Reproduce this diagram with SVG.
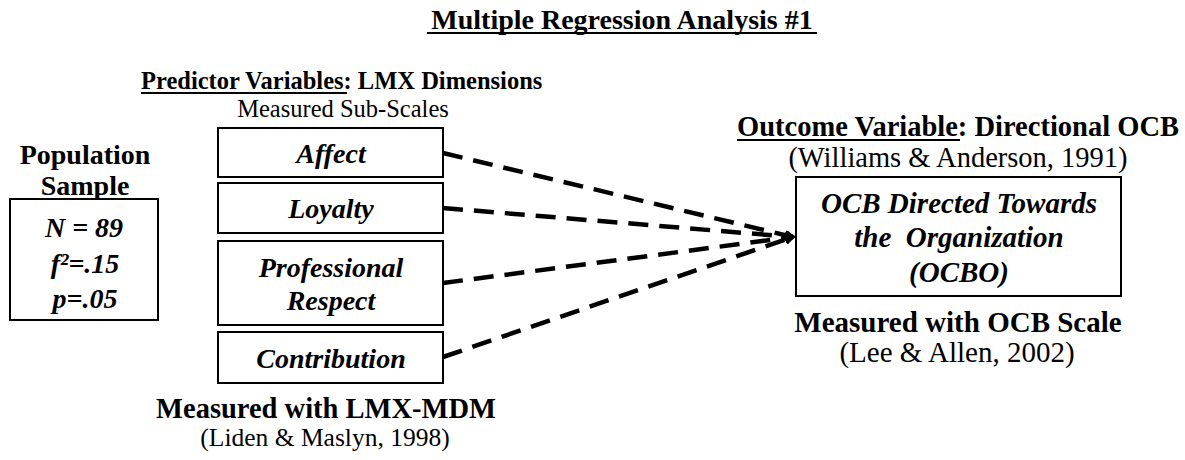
<svg xmlns="http://www.w3.org/2000/svg" width="1185" height="460" viewBox="0 0 1185 460">
<style>
text{font-family:"Liberation Serif","Times New Roman",serif;fill:#000}
.b{font-weight:bold}
.bi{font-weight:bold;font-style:italic}
.r{font-weight:normal}
.box{fill:#fff;stroke:#000;stroke-width:2}
.ul{stroke:#000;stroke-width:2}
.dash{fill:none;stroke:#000;stroke-width:4.5;stroke-dasharray:20 11}
</style>
<defs>
<marker id="ah" markerWidth="10" markerHeight="10" refX="8" refY="5" orient="auto" markerUnits="userSpaceOnUse">
<path d="M0,1 L8,5 L0,9" fill="none" stroke="#000" stroke-width="3"/>
</marker>
</defs>
<rect width="1185" height="460" fill="#fff"/>
<g id="title">
<text x="622" y="29" class="b" font-size="28" text-anchor="middle">Multiple Regression Analysis #1</text>
<line x1="427" y1="33" x2="817" y2="33" class="ul"/>
</g>
<g id="predictor-header">
<text x="141" y="89" class="b" font-size="24.5">Predictor Variables: LMX Dimensions</text>
<line x1="141" y1="93" x2="347" y2="93" class="ul"/>
<text x="343" y="117" class="r" font-size="24.5" text-anchor="middle">Measured Sub-Scales</text>
</g>
<g id="population">
<text x="85" y="164" class="b" font-size="28" text-anchor="middle">Population</text>
<text x="85" y="195" class="b" font-size="28" text-anchor="middle">Sample</text>
<rect x="10" y="199" width="148" height="121" class="box"/>
<text x="84" y="237" class="bi" font-size="28" text-anchor="middle">N = 89</text>
<text x="85" y="273" class="bi" font-size="28" text-anchor="middle">f²=.15</text>
<text x="85" y="308" class="bi" font-size="28" text-anchor="middle">p=.05</text>
</g>
<g id="connectors">
<path d="M443,153 L793,237" class="dash" marker-end="url(#ah)"/>
<path d="M443,208 L793,237" class="dash" marker-end="url(#ah)"/>
<path d="M443,283 L793,237" class="dash" marker-end="url(#ah)"/>
<path d="M443,357 L793,237" class="dash" marker-end="url(#ah)"/>
</g>
<g id="affect">
<rect x="218" y="128" width="225" height="49" class="box"/>
<text x="331" y="163" class="bi" font-size="28" text-anchor="middle">Affect</text>
</g>
<g id="loyalty">
<rect x="218" y="183" width="225" height="50" class="box"/>
<text x="331" y="218" class="bi" font-size="28" text-anchor="middle">Loyalty</text>
</g>
<g id="professional-respect">
<rect x="218" y="241" width="225" height="84" class="box"/>
<text x="331" y="277" class="bi" font-size="28" text-anchor="middle">Professional</text>
<text x="331" y="310" class="bi" font-size="28" text-anchor="middle">Respect</text>
</g>
<g id="contribution">
<rect x="218" y="332" width="225" height="51" class="box"/>
<text x="331" y="368" class="bi" font-size="28" text-anchor="middle">Contribution</text>
</g>
<g id="lmx-measure">
<text x="326" y="418" class="b" font-size="28.5" text-anchor="middle">Measured with LMX-MDM</text>
<text x="325" y="446" class="r" font-size="25.5" text-anchor="middle">(Liden &amp; Maslyn, 1998)</text>
</g>
<g id="outcome-header">
<text x="737" y="136" class="b" font-size="28.5">Outcome Variable: Directional OCB</text>
<line x1="737" y1="140" x2="960" y2="140" class="ul"/>
<text x="958" y="167" class="r" font-size="28.5" text-anchor="middle">(Williams &amp; Anderson, 1991)</text>
</g>
<g id="ocbo">
<rect x="796" y="177" width="325" height="119" class="box"/>
<text x="959" y="213" class="bi" font-size="29" text-anchor="middle">OCB Directed Towards</text>
<text x="959" y="247" class="bi" font-size="29" text-anchor="middle" xml:space="preserve">the  Organization</text>
<text x="959" y="282" class="bi" font-size="29" text-anchor="middle">(OCBO)</text>
</g>
<g id="ocb-measure">
<text x="958" y="332" class="b" font-size="29" text-anchor="middle">Measured with OCB Scale</text>
<text x="957" y="362" class="r" font-size="29" text-anchor="middle">(Lee &amp; Allen, 2002)</text>
</g>
</svg>
